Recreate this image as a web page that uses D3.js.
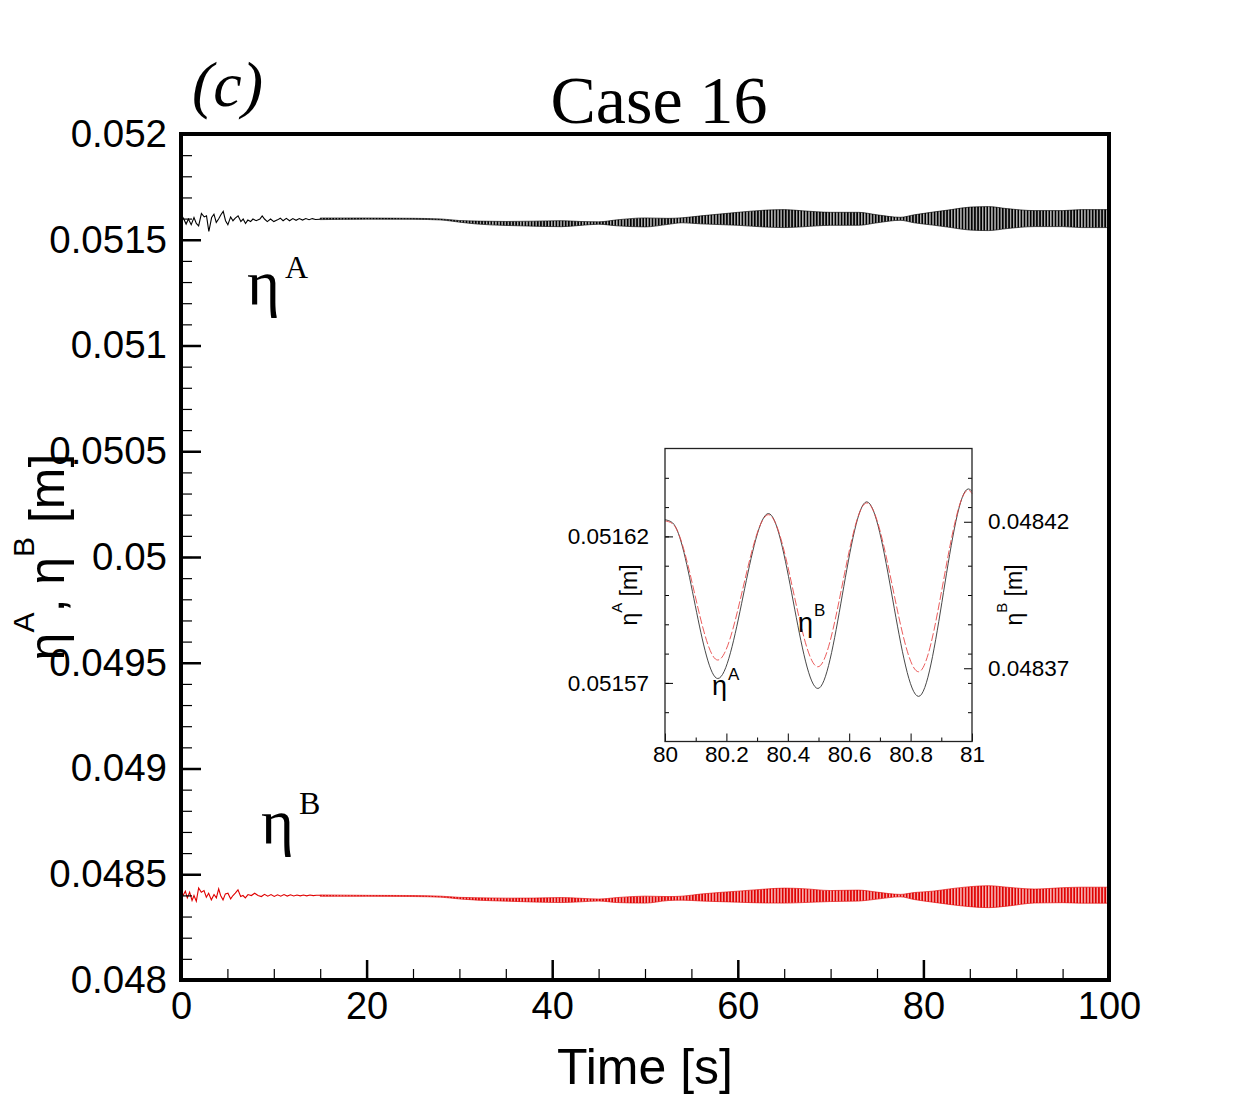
<!DOCTYPE html>
<html>
<head>
  <script src="https://d3js.org/d3.v7.min.js"></script>
  <style>
    html, body {
      margin: 0px;
      padding: 0px;
      background: #fff;
    }
    #chart {
      width: 1242px;
      height: 1105px;
    }
    .sans { font-family: "Liberation Sans", Arial, Helvetica, sans-serif; }
    .serif { font-family: "Liberation Serif", "Times New Roman", serif; }
  </style>
</head>
<body>
  <div id="chart"></div>
  <script>

    /*
    DATA
    */
    const xTicks = [0, 20, 40, 60, 80, 100];
    const xTickLabels = ["0", "20", "40", "60", "80", "100"];
    const yTicks = [0.048, 0.0485, 0.049, 0.0495, 0.05, 0.0505, 0.051, 0.0515, 0.052];
    const yTickLabels = ["0.048", "0.0485", "0.049", "0.0495", "0.05", "0.0505", "0.051", "0.0515", "0.052"];

    // start-up transient, eta A (black)
    const earlyTimeA = [0, 0.3, 0.55, 0.8, 1.1, 1.4, 1.65, 1.9, 2.2, 2.5, 2.75, 3.0, 3.3, 3.55, 3.8,
      4.05, 4.3, 4.55, 4.8, 5.05, 5.35, 5.6, 5.85, 6.15, 6.45, 6.7, 6.95, 7.2, 7.5, 7.75,
      8.1, 8.5, 8.75, 9.0, 9.3, 9.65, 10.0, 10.4, 10.7, 11.0, 11.35, 11.7, 12.05, 12.4, 12.75,
      13.1, 13.45, 13.8, 14.15, 14.5, 15];
    const earlyEtaA = [0.051621, 0.051598, 0.051574, 0.051598, 0.051571, 0.051605, 0.051577, 0.051566, 0.051624, 0.051608,
      0.051613, 0.051539, 0.051605, 0.051621, 0.051582, 0.051598, 0.051618, 0.051634, 0.05159, 0.051571,
      0.051608, 0.05159, 0.051602, 0.051613, 0.051586, 0.051598, 0.051577, 0.051593, 0.051586, 0.051598,
      0.05159, 0.051598, 0.051613, 0.051598, 0.051586, 0.051598, 0.051586, 0.051594, 0.051602, 0.05159,
      0.051601, 0.05159, 0.0516, 0.051592, 0.0516, 0.051593, 0.0516, 0.051595, 0.0516, 0.051596, 0.051597];

    // start-up transient, eta B (red)
    const earlyTimeB = [0, 0.22, 0.47, 0.68, 0.93, 1.19, 1.4, 1.65, 1.9, 2.19, 2.48, 2.73, 2.98, 3.27, 3.56,
      3.81, 4.06, 4.27, 4.53, 4.78, 5.06, 5.35, 5.6, 5.85, 6.14, 6.43, 6.68, 6.93, 7.22, 7.58,
      7.94, 8.3, 8.66, 9.0, 9.35, 9.7, 10.05, 10.4, 10.75, 11.1, 11.45, 11.8, 12.15, 12.5, 12.85,
      13.2, 13.55, 13.9, 14.25, 14.6, 15];
    const earlyEtaB = [0.048399, 0.0483994, 0.0484198, 0.0483884, 0.0484151, 0.0483758, 0.0483994, 0.0483726, 0.0484355, 0.0484151,
      0.048423, 0.0483915, 0.0484104, 0.0483789, 0.0484041, 0.0483884, 0.0484308, 0.0483994, 0.0483789, 0.0484072,
      0.0484104, 0.0483836, 0.0483994, 0.0484104, 0.0484261, 0.0483946, 0.0483994, 0.0483884, 0.0484041, 0.0483994,
      0.0484104, 0.0483994, 0.0483946, 0.048405, 0.048396, 0.048404, 0.048395, 0.048403, 0.048396, 0.048404,
      0.048397, 0.048403, 0.048397, 0.048402, 0.048398, 0.048402, 0.048398, 0.048402, 0.048399, 0.048401, 0.048401];

    // after the transient the signal is a dense oscillation: mean level and half-amplitude
    const envTime = [15, 20, 25, 28, 30, 32, 35, 38, 41, 43, 45, 47, 50, 52.5, 54, 56, 60, 63, 65, 67,
      70, 73, 75, 77.5, 79, 81, 83, 85, 87, 89, 92, 95, 97, 100];
    const envMeanA = [0.051599, 0.0516, 0.051599, 0.051596, 0.051587, 0.051581, 0.051577, 0.051576, 0.051576, 0.051577,
      0.051579, 0.05158, 0.051582, 0.051587, 0.051592, 0.051594, 0.051599, 0.0516, 0.0516, 0.051599,
      0.051599, 0.051599, 0.051599, 0.051599, 0.051599, 0.0516, 0.0516, 0.0516, 0.0516, 0.0516,
      0.0516, 0.0516, 0.0516, 0.0516];
    const envAmpA = [3.8e-6, 2.8e-6, 2.4e-6, 2.4e-6, 3.8e-6, 7.1e-6, 9.4e-6, 11.8e-6, 14.2e-6, 9.4e-6,
      5.7e-6, 14.2e-6, 21.2e-6, 14.2e-6, 11.8e-6, 18.9e-6, 30.7e-6, 40.1e-6, 42.5e-6, 37.8e-6,
      30.7e-6, 30.7e-6, 18.9e-6, 7.1e-6, 18.9e-6, 30.7e-6, 42.5e-6, 54.3e-6, 56.7e-6, 47.2e-6,
      37.8e-6, 37.8e-6, 42.5e-6, 42.5e-6];
    const envMeanB = [0.048399, 0.048398, 0.048397, 0.048394, 0.048387, 0.048383, 0.04838, 0.048378, 0.048378, 0.048378,
      0.048378, 0.048378, 0.04838, 0.048385, 0.048387, 0.04839, 0.048394, 0.048397, 0.048399, 0.048399,
      0.048397, 0.048399, 0.048399, 0.048399, 0.048397, 0.048394, 0.048394, 0.048394, 0.048394, 0.048394,
      0.048397, 0.048401, 0.048401, 0.048401];
    const envAmpB = [3.3e-6, 2.4e-6, 2.4e-6, 2.4e-6, 3.8e-6, 5.7e-6, 7.1e-6, 9.4e-6, 11.8e-6, 8.5e-6,
      4.7e-6, 11.8e-6, 16.5e-6, 9.4e-6, 9.4e-6, 16.5e-6, 26e-6, 33e-6, 35.4e-6, 33e-6,
      26e-6, 26e-6, 16.5e-6, 5.7e-6, 16.5e-6, 26e-6, 37.8e-6, 47.2e-6, 51.9e-6, 44.8e-6,
      33e-6, 35.4e-6, 37.8e-6, 37.8e-6];

    // inset, 80 s .. 81 s (peaks and troughs)
    const insetTime = [80, 80.025, 80.172, 80.337, 80.498, 80.657, 80.826, 80.988, 81];
    const insetEtaA = [0.0516257, 0.0516246, 0.0515715, 0.0516278, 0.0515681, 0.0516318, 0.0515654, 0.0516362, 0.0516354];
    const insetEtaB = [0.0484203, 0.0484193, 0.0483728, 0.0484224, 0.0483705, 0.0484264, 0.0483688, 0.0484308, 0.0484296];
    const insetXTicks = [80, 80.2, 80.4, 80.6, 80.8, 81];
    const insetXTickLabels = ["80", "80.2", "80.4", "80.6", "80.8", "81"];
    const insetATicks = [0.05157, 0.05162];
    const insetATickLabels = ["0.05157", "0.05162"];
    const insetBTicks = [0.04837, 0.04842];
    const insetBTickLabels = ["0.04837", "0.04842"];

    /*
    SVG CANVAS
    */
    const width = 1242;
    const height = 1105;
    const plot = {left: 181, right: 1109, top: 134, bottom: 980};
    const inset = {left: 665, right: 972, top: 448.5, bottom: 741.5};

    const svg = d3.select("#chart")
      .append("svg")
      .attr("width", width)
      .attr("height", height);

    svg.append("rect").attr("width", width).attr("height", height).attr("fill", "#fff");

    // dense oscillation drawn as vertical hatching inside its envelope
    const defs = svg.append("defs");
    function stripes(id, color) {
      const p = defs.append("pattern")
        .attr("id", id)
        .attr("patternUnits", "userSpaceOnUse")
        .attr("width", 3.1)
        .attr("height", 6);
      p.append("line")
        .attr("x1", 1.5).attr("x2", 1.5).attr("y1", 0).attr("y2", 6)
        .attr("stroke", color).attr("stroke-width", 2.1);
    }
    stripes("stripesA", "#000");
    stripes("stripesB", "#e00000");

    /*
    SCALES
    */
    const xScale = d3.scaleLinear()
      .domain([0, 100])
      .range([plot.left, plot.right]);

    const yScale = d3.scaleLinear()
      .domain([0.048, 0.052])
      .range([plot.bottom, plot.top]);

    /*
    SERIES
    */
    const line = d3.line()
      .x(d => xScale(d.t))
      .y(d => yScale(d.v));

    const band = d3.area()
      .x(d => xScale(d.t))
      .y0(d => yScale(d.m - d.a))
      .y1(d => yScale(d.m + d.a))
      .curve(d3.curveMonotoneX);

    const series = [
      {time: earlyTimeA, eta: earlyEtaA, mean: envMeanA, amp: envAmpA, color: "#000", fill: "url(#stripesA)"},
      {time: earlyTimeB, eta: earlyEtaB, mean: envMeanB, amp: envAmpB, color: "#e00000", fill: "url(#stripesB)"}
    ];

    series.forEach(function(s) {
      const early = s.time.map((t, i) => ({t: t, v: s.eta[i]}));
      const env = envTime.map((t, i) => ({t: t, m: s.mean[i], a: s.amp[i]}));

      svg.append("path")
        .datum(env)
        .attr("d", band)
        .attr("fill", s.fill)
        .attr("stroke", s.color)
        .attr("stroke-width", 0.9)
        .attr("stroke-opacity", 0.7);

      svg.append("path")
        .datum(early)
        .attr("d", line)
        .attr("fill", "none")
        .attr("stroke", s.color)
        .attr("stroke-width", 1.1);
    });

    /*
    AXES (ticks point inwards)
    */
    function styleAxis(g, size) {
      g.select(".domain").remove();
      g.attr("font-family", null).attr("font-size", null);
      g.selectAll("text").attr("class", "sans").attr("fill", "#000").style("font-size", size);
    }

    svg.append("g")
      .attr("transform", `translate(${plot.left},0)`)
      .call(d3.axisLeft(yScale).tickValues(yTicks).tickSize(-20).tickPadding(14)
        .tickFormat((d, i) => yTickLabels[i]))
      .call(g => styleAxis(g, "38.5px"))
      .call(g => g.selectAll("line").attr("stroke-width", 2.5));

    svg.append("g")
      .attr("transform", `translate(${plot.left},0)`)
      .call(d3.axisLeft(yScale).tickValues(d3.range(0.0481, 0.052, 0.0001)).tickSize(-11).tickFormat(""))
      .call(g => g.select(".domain").remove())
      .call(g => g.selectAll("line").attr("stroke-width", 1.2));

    svg.append("g")
      .attr("transform", `translate(0,${plot.bottom})`)
      .call(d3.axisBottom(xScale).tickValues(xTicks).tickSize(-20).tickPadding(12)
        .tickFormat((d, i) => xTickLabels[i]))
      .call(g => styleAxis(g, "38px"))
      .call(g => g.selectAll("line").attr("stroke-width", 2.5));

    svg.append("g")
      .attr("transform", `translate(0,${plot.bottom})`)
      .call(d3.axisBottom(xScale).tickValues(d3.range(5, 100, 5)).tickSize(-11).tickFormat(""))
      .call(g => g.select(".domain").remove())
      .call(g => g.selectAll("line").attr("stroke-width", 1.2));

    svg.append("rect")
      .attr("x", plot.left)
      .attr("y", plot.top)
      .attr("width", plot.right - plot.left)
      .attr("height", plot.bottom - plot.top)
      .attr("fill", "none")
      .attr("stroke", "#000")
      .attr("stroke-width", 4);

    /*
    TITLES AND LABELS
    */
    svg.append("text")
      .attr("class", "serif")
      .attr("x", 659)
      .attr("y", 123)
      .attr("text-anchor", "middle")
      .style("font-size", "68px")
      .text("Case 16");

    svg.append("text")
      .attr("class", "serif")
      .attr("x", 192)
      .attr("y", 106)
      .style("font-size", "64px")
      .style("font-style", "italic")
      .text("(c)");

    svg.append("text")
      .attr("class", "sans")
      .attr("x", (plot.left + plot.right) / 2)
      .attr("y", 1084)
      .attr("text-anchor", "middle")
      .style("font-size", "50px")
      .text("Time [s]");

    const yTitle = svg.append("text")
      .attr("class", "sans")
      .attr("transform", "rotate(-90)")
      .attr("x", -(plot.top + plot.bottom) / 2)
      .attr("y", 64)
      .attr("text-anchor", "middle")
      .style("font-size", "50px");
    yTitle.append("tspan").text("η");
    yTitle.append("tspan").attr("dy", -30).style("font-size", "30px").text("A");
    yTitle.append("tspan").attr("dy", 30).text(", η");
    yTitle.append("tspan").attr("dy", -30).style("font-size", "30px").text("B");
    yTitle.append("tspan").attr("dy", 30).text(" [m]");

    function etaLabel(x, y, sup, size, supSize, shift, cls) {
      const t = svg.append("text").attr("class", cls).attr("x", x).attr("y", y).style("font-size", size);
      t.append("tspan").text("η");
      t.append("tspan").attr("dx", cls === "serif" ? 5 : 1).attr("dy", -shift).style("font-size", supSize).text(sup);
    }
    etaLabel(247, 304, "A", "63px", "32px", 26, "serif");
    etaLabel(261, 843, "B", "63px", "32px", 29, "serif");

    /*
    INSET
    */
    const ixScale = d3.scaleLinear().domain([80, 81]).range([inset.left, inset.right]);
    const iyA = d3.scaleLinear().domain([0.05155, 0.05165]).range([inset.bottom, inset.top]);
    const iyB = d3.scaleLinear().domain([0.048345, 0.048445]).range([inset.bottom, inset.top]);

    svg.append("rect")
      .attr("x", inset.left).attr("y", inset.top)
      .attr("width", inset.right - inset.left).attr("height", inset.bottom - inset.top)
      .attr("fill", "#fff");

    const insetA = insetTime.map((t, i) => ({t: t, v: insetEtaA[i]}));
    const insetB = insetTime.map((t, i) => ({t: t, v: insetEtaB[i]}));

    svg.append("path")
      .datum(insetA)
      .attr("d", d3.line().x(d => ixScale(d.t)).y(d => iyA(d.v)).curve(d3.curveMonotoneX))
      .attr("fill", "none")
      .attr("stroke", "#333")
      .attr("stroke-width", 0.9);

    svg.append("path")
      .datum(insetB)
      .attr("d", d3.line().x(d => ixScale(d.t)).y(d => iyB(d.v)).curve(d3.curveMonotoneX))
      .attr("fill", "none")
      .attr("stroke", "#e84a4a")
      .attr("stroke-width", 0.9)
      .attr("stroke-dasharray", "8,2.5");

    svg.append("g")
      .attr("transform", `translate(${inset.left},0)`)
      .call(d3.axisLeft(iyA).tickValues(insetATicks).tickSize(-8).tickPadding(16)
        .tickFormat((d, i) => insetATickLabels[i]))
      .call(g => styleAxis(g, "22.5px"));
    svg.append("g")
      .attr("transform", `translate(${inset.left},0)`)
      .call(d3.axisLeft(iyA).tickValues(d3.range(0.05156, 0.05165, 0.00001)).tickSize(-4).tickFormat(""))
      .call(g => g.select(".domain").remove());

    svg.append("g")
      .attr("transform", `translate(${inset.right},0)`)
      .call(d3.axisRight(iyB).tickValues(insetBTicks).tickSize(-8).tickPadding(16)
        .tickFormat((d, i) => insetBTickLabels[i]))
      .call(g => styleAxis(g, "22.5px"));
    svg.append("g")
      .attr("transform", `translate(${inset.right},0)`)
      .call(d3.axisRight(iyB).tickValues(d3.range(0.048355, 0.048445, 0.00001)).tickSize(-4).tickFormat(""))
      .call(g => g.select(".domain").remove());

    svg.append("g")
      .attr("transform", `translate(0,${inset.bottom})`)
      .call(d3.axisBottom(ixScale).tickValues(insetXTicks).tickSize(-8).tickPadding(5)
        .tickFormat((d, i) => insetXTickLabels[i]))
      .call(g => styleAxis(g, "22.5px"));
    svg.append("g")
      .attr("transform", `translate(0,${inset.bottom})`)
      .call(d3.axisBottom(ixScale).tickValues([80.1, 80.3, 80.5, 80.7, 80.9]).tickSize(-4).tickFormat(""))
      .call(g => g.select(".domain").remove());

    svg.append("rect")
      .attr("x", inset.left).attr("y", inset.top)
      .attr("width", inset.right - inset.left).attr("height", inset.bottom - inset.top)
      .attr("fill", "none")
      .attr("stroke", "#222")
      .attr("stroke-width", 1.3);

    function insetTitle(x, sup) {
      const t = svg.append("text")
        .attr("class", "sans")
        .attr("transform", "rotate(-90)")
        .attr("x", -(inset.top + inset.bottom) / 2)
        .attr("y", x)
        .attr("text-anchor", "middle")
        .style("font-size", "23px");
      t.append("tspan").text("η");
      t.append("tspan").attr("dy", -15).style("font-size", "15px").text(sup);
      t.append("tspan").attr("dy", 15).text(" [m]");
    }
    insetTitle(637, "A");
    insetTitle(1022, "B");

    etaLabel(712, 695, "A", "27px", "17px", 15, "sans");
    etaLabel(798, 632, "B", "27px", "17px", 16, "sans");

  </script>
</body>
</html>
